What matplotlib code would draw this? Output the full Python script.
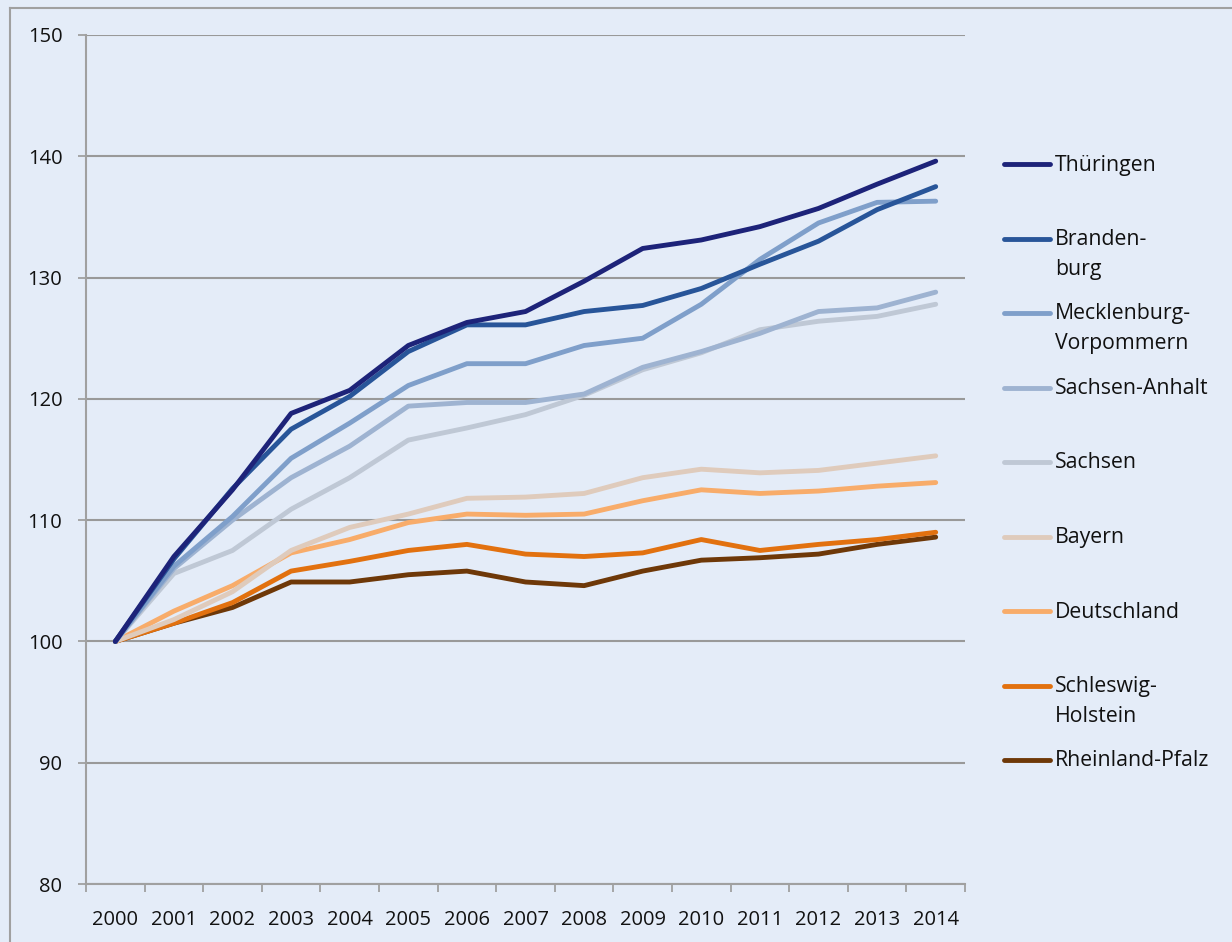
import numpy as np
import matplotlib
matplotlib.use("Agg")
import matplotlib.pyplot as plt
from matplotlib.lines import Line2D

plt.rcParams["font.family"] = ["Open Sans", "DejaVu Sans"]

# ---- data (index, 2000 = 100) ----
years = [str(y) for y in range(2000, 2015)]

thueringen = [100, 107.0, 112.5, 118.8, 120.7, 124.4, 126.3, 127.2, 129.7, 132.4, 133.1, 134.2, 135.7, 137.7, 139.6]
brandenburg = [100, 106.8, 112.6, 117.5, 120.2, 123.9, 126.1, 126.1, 127.2, 127.7, 129.1, 131.1, 133.0, 135.6, 137.5]
meck_vorp = [100, 106.2, 110.3, 115.1, 118.0, 121.1, 122.9, 122.9, 124.4, 125.0, 127.8, 131.5, 134.5, 136.2, 136.3]
sachsen_anhalt = [100, 106.0, 110.0, 113.5, 116.1, 119.4, 119.7, 119.7, 120.4, 122.6, 123.9, 125.4, 127.2, 127.5, 128.8]
sachsen = [100, 105.6, 107.5, 110.9, 113.5, 116.6, 117.6, 118.7, 120.3, 122.4, 123.8, 125.7, 126.4, 126.8, 127.8]
bayern = [100, 101.8, 104.1, 107.5, 109.4, 110.5, 111.8, 111.9, 112.2, 113.5, 114.2, 113.9, 114.1, 114.7, 115.3]
deutschland = [100, 102.5, 104.6, 107.3, 108.4, 109.8, 110.5, 110.4, 110.5, 111.6, 112.5, 112.2, 112.4, 112.8, 113.1]
schleswig_h = [100, 101.5, 103.2, 105.8, 106.6, 107.5, 108.0, 107.2, 107.0, 107.3, 108.4, 107.5, 108.0, 108.4, 109.0]
rheinland_p = [100, 101.5, 102.8, 104.9, 104.9, 105.5, 105.8, 104.9, 104.6, 105.8, 106.7, 106.9, 107.2, 108.0, 108.6]

labels = ["Thüringen", "Branden-\nburg", "Mecklenburg-\nVorpommern", "Sachsen-Anhalt",
          "Sachsen", "Bayern", "Deutschland", "Schleswig-\nHolstein", "Rheinland-Pfalz"]
series = [thueringen, brandenburg, meck_vorp, sachsen_anhalt, sachsen,
          bayern, deutschland, schleswig_h, rheinland_p]
colors = ["#1D2379", "#285599", "#7F9FCA", "#9EB3D1", "#BFC8D5",
          "#DFCBBC", "#F8AC6A", "#E2710F", "#6E3808"]

BG = "#E4ECF8"
GRID = "#999999"
TXT = "#111111"

fig = plt.figure(figsize=(12.32, 9.42), dpi=100, facecolor=BG)
W, H = 1232, 942
ax = fig.add_axes([86 / W, 1 - 884 / H, (965 - 86) / W, (884 - 35) / H])
ax.set_facecolor(BG)

x = np.arange(len(years))
# draw bottom series first so the dark top lines sit above
for vals, col in reversed(list(zip(series, colors))):
    ax.plot(x, vals, color=col, lw=3.5, solid_capstyle="round", solid_joinstyle="round", zorder=3)

ax.set_xlim(-0.5, len(years) - 0.5)
ax.set_ylim(80, 150)
ax.set_yticks(np.arange(80, 151, 10))
ax.yaxis.grid(True, color=GRID, lw=1.5, zorder=1)
ax.set_axisbelow(True)

ax.set_xticks(x)
ax.set_xticklabels(years)
ax.set_xticks(np.arange(-0.5, len(years), 1), minor=True)
ax.tick_params(axis="x", which="major", length=0, pad=19, labelsize=14.5, labelcolor=TXT)
ax.tick_params(axis="x", which="minor", length=6, width=1.3, color="#A0A0A0", direction="out")
ax.tick_params(axis="y", length=6, width=1.3, color="#A0A0A0", pad=11, labelsize=14.5, labelcolor=TXT)

for s in ["top", "right"]:
    ax.spines[s].set_visible(False)
for s in ["left", "bottom"]:
    ax.spines[s].set_color("#A0A0A0")
    ax.spines[s].set_linewidth(1.5)

# outer frame (only top and left visible in the crop)
fig.add_artist(Line2D([10 / W, 1], [1 - 8 / H, 1 - 8 / H], transform=fig.transFigure, color="#A0A0A0", lw=1.5))
fig.add_artist(Line2D([10 / W, 10 / W], [0, 1 - 8 / H], transform=fig.transFigure, color="#A0A0A0", lw=1.5))

# legend built by hand to follow the original spacing
y0, step = 164, 74.5
for i, (lab, col) in enumerate(zip(labels, colors)):
    yy = y0 + i * step
    fig.add_artist(Line2D([1004 / W, 1050 / W], [1 - yy / H, 1 - yy / H], transform=fig.transFigure,
                          color=col, lw=3.5, solid_capstyle="round"))
    for j, part in enumerate(lab.split("\n")):
        fig.text(1055 / W, 1 - (yy + 1 + j * 30) / H, part, fontsize=15.3, color=TXT,
                 ha="left", va="center")

fig.savefig("out.png", dpi=100, facecolor=BG)
